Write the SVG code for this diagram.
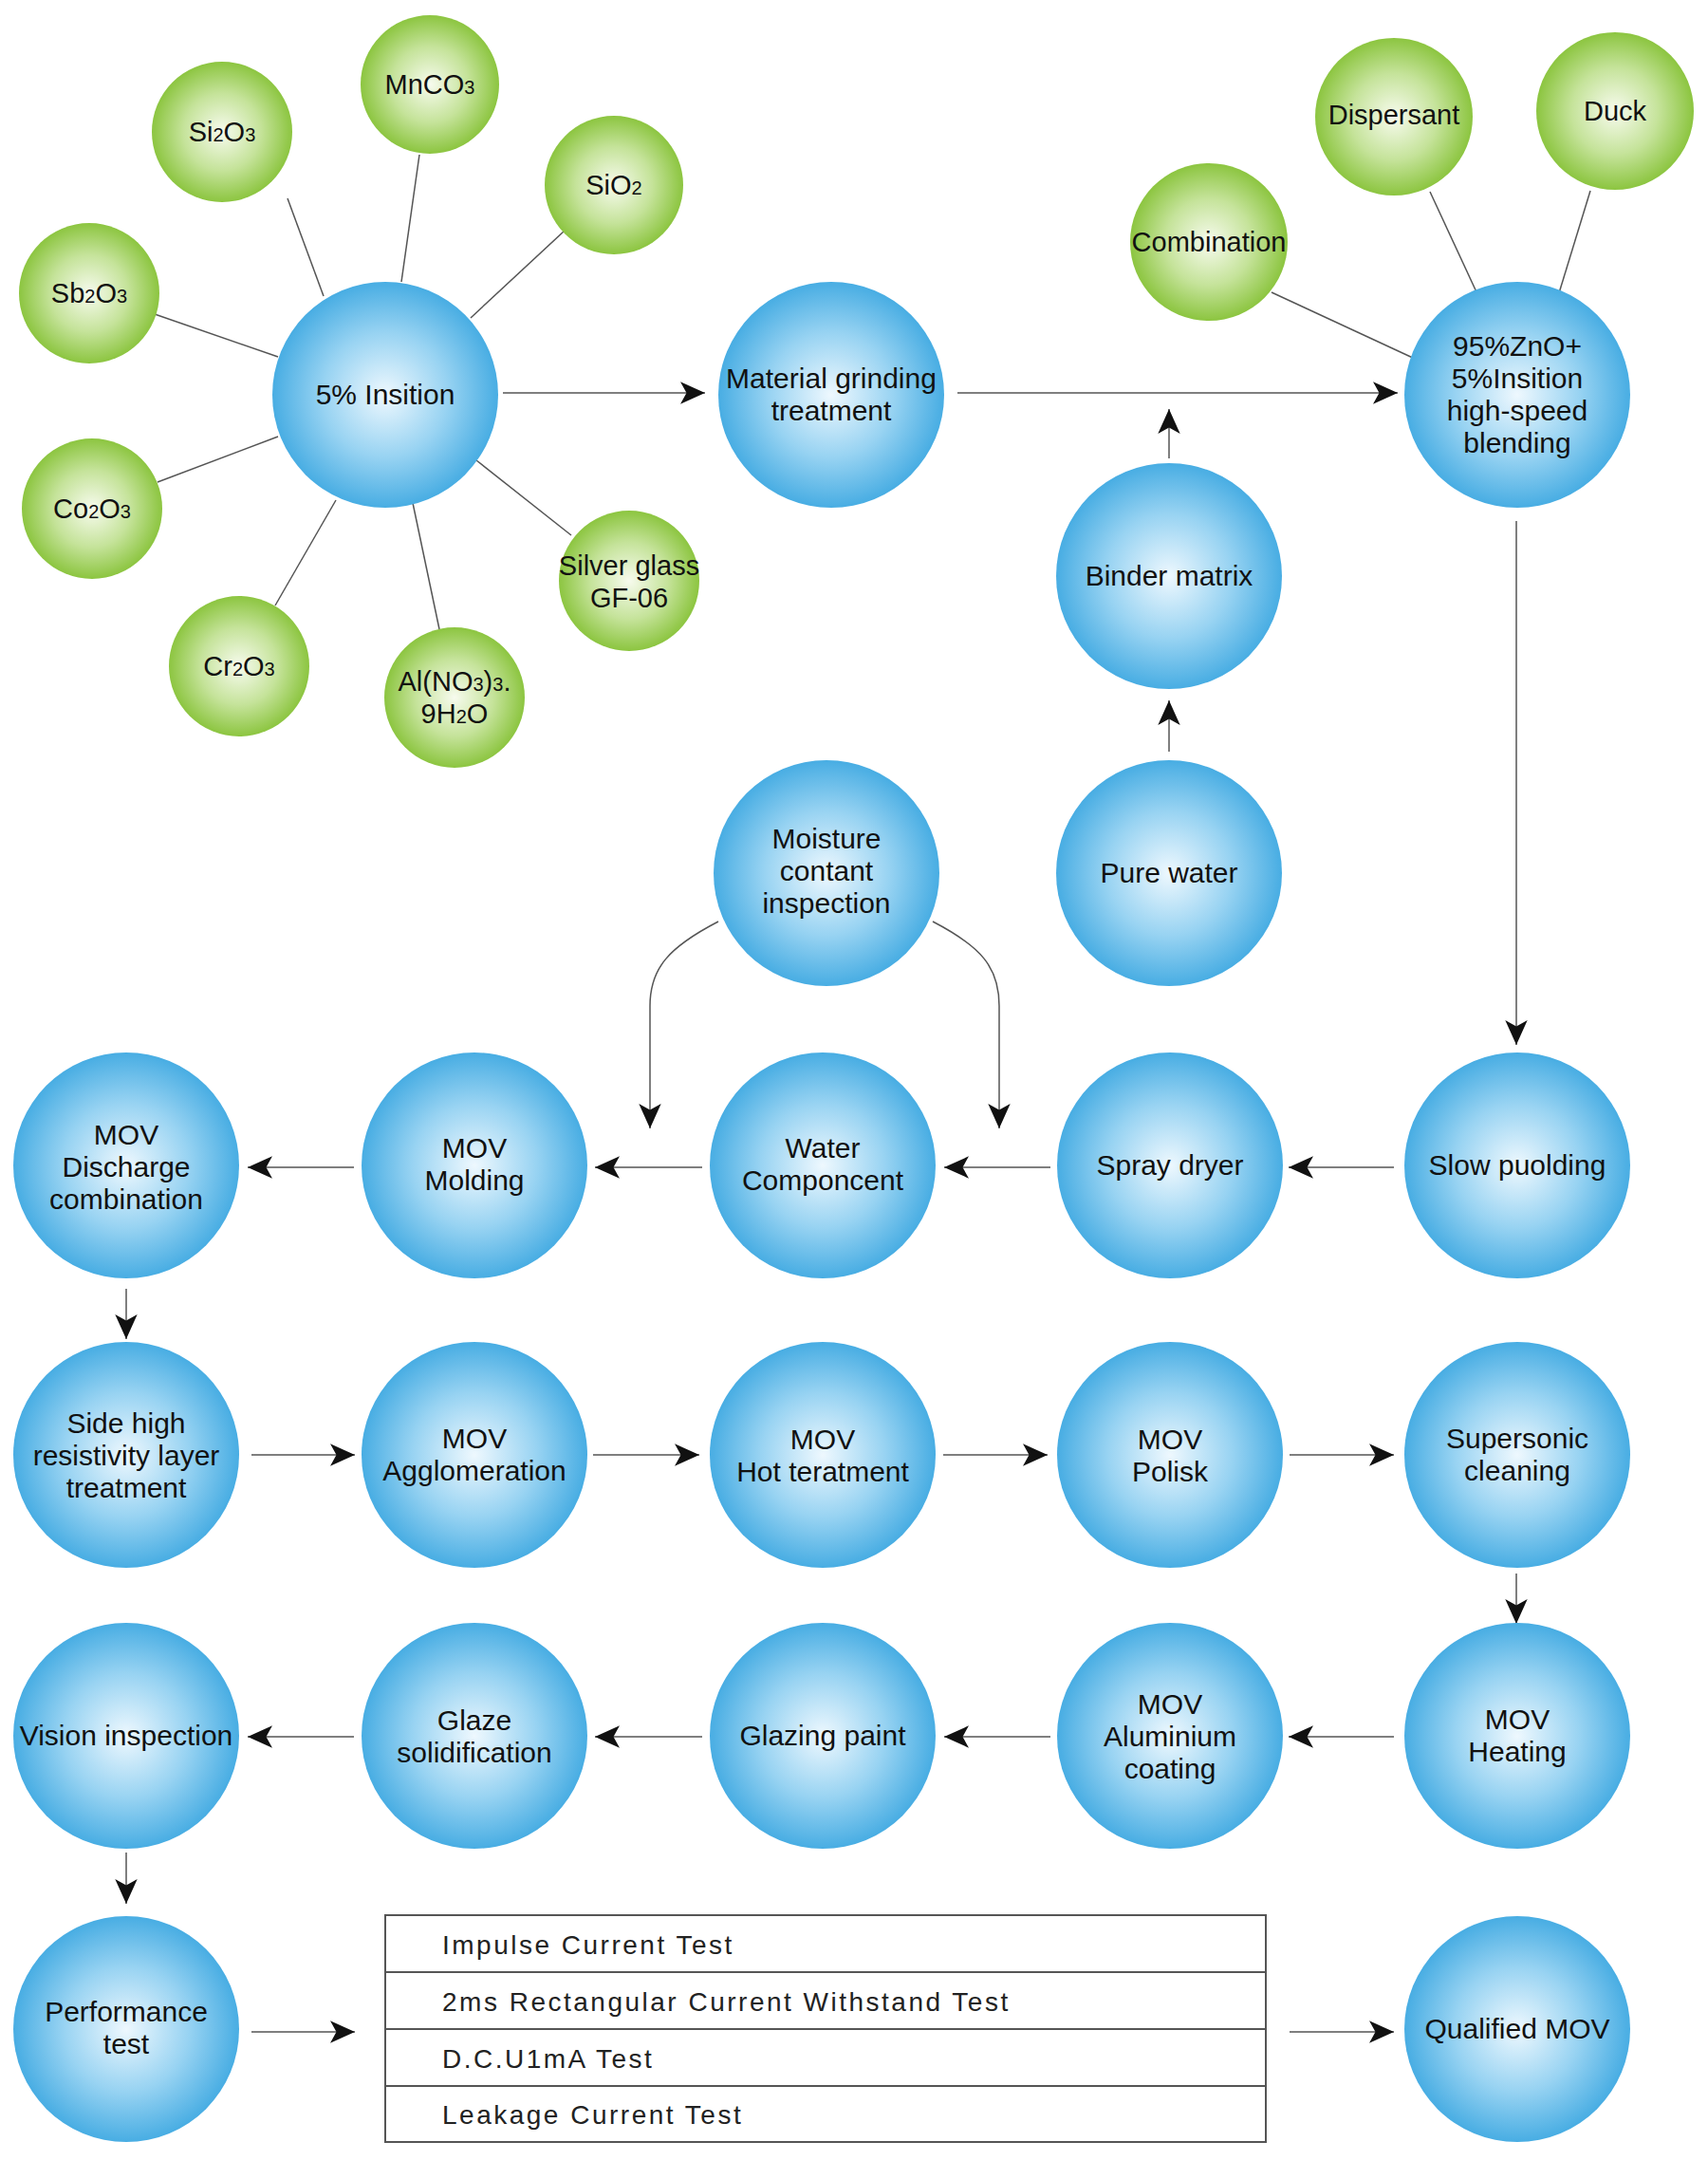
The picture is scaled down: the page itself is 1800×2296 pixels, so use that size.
<svg xmlns="http://www.w3.org/2000/svg" width="1800" height="2296" viewBox="0 0 1800 2296">
<defs>
<radialGradient id="gb" cx="50%" cy="50%" r="50%">
<stop offset="0" stop-color="#eef8fe"/>
<stop offset="0.55" stop-color="#98d3f2"/>
<stop offset="1" stop-color="#48ade3"/>
</radialGradient>
<radialGradient id="gg" cx="50%" cy="50%" r="50%">
<stop offset="0" stop-color="#f7fbee"/>
<stop offset="0.55" stop-color="#c5e39a"/>
<stop offset="1" stop-color="#8cc540"/>
</radialGradient>
<marker id="ah" viewBox="0 0 20 20" refX="20" refY="10" markerWidth="26" markerHeight="26" markerUnits="userSpaceOnUse" orient="auto">
<path d="M0,1 L20,10 L0,19 L5,10 z" fill="#111"/>
</marker>
<style>
.b{fill:url(#gb)}
.g{fill:url(#gg)}
.t{font-family:"Liberation Sans",Arial,sans-serif;font-size:30px;fill:#111;text-anchor:middle}
.tg{font-family:"Liberation Sans",Arial,sans-serif;font-size:29px;fill:#111;text-anchor:middle}
.s{font-size:20px}
.ln{stroke:#555;stroke-width:1.5;fill:none}
.ar{stroke:#555;stroke-width:1.5;fill:none;marker-end:url(#ah)}
.tb{fill:#fff;stroke:#555;stroke-width:2}
.tt{font-family:"Liberation Sans",Arial,sans-serif;font-size:28px;fill:#222;letter-spacing:2.5px}
</style>
</defs>
<rect width="1800" height="2296" fill="#fff"/>

<g id="connectors">
<line class="ln" x1="303" y1="209" x2="341" y2="312"/>
<line class="ln" x1="442" y1="163" x2="423" y2="297"/>
<line class="ln" x1="595" y1="243" x2="496" y2="335"/>
<line class="ln" x1="163" y1="331" x2="293" y2="376"/>
<line class="ln" x1="166" y1="508" x2="293" y2="460"/>
<line class="ln" x1="290" y1="638" x2="354" y2="527"/>
<line class="ln" x1="463" y1="663" x2="435" y2="530"/>
<line class="ln" x1="602" y1="564" x2="502" y2="485"/>
<line class="ln" x1="1340" y1="308" x2="1491" y2="378"/>
<line class="ln" x1="1507" y1="202" x2="1558" y2="312"/>
<line class="ln" x1="1676" y1="201" x2="1642" y2="312"/>
<line class="ar" x1="530" y1="414" x2="743" y2="414"/>
<line class="ar" x1="1009" y1="414" x2="1473" y2="414"/>
<line class="ar" x1="1232" y1="483" x2="1232" y2="431"/>
<line class="ar" x1="1232" y1="792" x2="1232" y2="738"/>
<line class="ar" x1="1598" y1="549" x2="1598" y2="1101"/>
<line class="ar" x1="1469" y1="1230" x2="1358" y2="1230"/>
<line class="ar" x1="1107" y1="1230" x2="995" y2="1230"/>
<line class="ar" x1="740" y1="1230" x2="627" y2="1230"/>
<line class="ar" x1="373" y1="1230" x2="261" y2="1230"/>
<path class="ar" d="M757,971 C705,998 685,1020 685,1060 L685,1189"/>
<path class="ar" d="M983,971 C1035,998 1053,1020 1053,1060 L1053,1189"/>
<line class="ar" x1="133" y1="1358" x2="133" y2="1411"/>
<line class="ar" x1="265" y1="1533" x2="374" y2="1533"/>
<line class="ar" x1="625" y1="1533" x2="737" y2="1533"/>
<line class="ar" x1="994" y1="1533" x2="1104" y2="1533"/>
<line class="ar" x1="1359" y1="1533" x2="1469" y2="1533"/>
<line class="ar" x1="1598" y1="1658" x2="1598" y2="1711"/>
<line class="ar" x1="1469" y1="1830" x2="1358" y2="1830"/>
<line class="ar" x1="1107" y1="1830" x2="995" y2="1830"/>
<line class="ar" x1="740" y1="1830" x2="627" y2="1830"/>
<line class="ar" x1="373" y1="1830" x2="261" y2="1830"/>
<line class="ar" x1="133" y1="1952" x2="133" y2="2006"/>
<line class="ar" x1="265" y1="2141" x2="374" y2="2141"/>
<line class="ar" x1="1359" y1="2141" x2="1469" y2="2141"/>
</g>

<g id="n-mnco3"><circle class="g" cx="453" cy="89" r="73"/><text class="tg" x="453" y="99">MnCO<tspan class="s">3</tspan></text></g>
<g id="n-si2o3"><circle class="g" cx="234" cy="139" r="74"/><text class="tg" x="234" y="149">Si<tspan class="s">2</tspan>O<tspan class="s">3</tspan></text></g>
<g id="n-sio2"><circle class="g" cx="647" cy="195" r="73"/><text class="tg" x="647" y="205">SiO<tspan class="s">2</tspan></text></g>
<g id="n-sb2o3"><circle class="g" cx="94" cy="309" r="74"/><text class="tg" x="94" y="319">Sb<tspan class="s">2</tspan>O<tspan class="s">3</tspan></text></g>
<g id="n-co2o3"><circle class="g" cx="97" cy="536" r="74"/><text class="tg" x="97" y="546">Co<tspan class="s">2</tspan>O<tspan class="s">3</tspan></text></g>
<g id="n-cr2o3"><circle class="g" cx="252" cy="702" r="74"/><text class="tg" x="252" y="712">Cr<tspan class="s">2</tspan>O<tspan class="s">3</tspan></text></g>
<g id="n-alno3"><circle class="g" cx="479" cy="735" r="74"/><text class="tg" x="479" y="728">Al(NO<tspan class="s">3</tspan>)<tspan class="s">3</tspan>.</text><text class="tg" x="479" y="762">9H<tspan class="s">2</tspan>O</text></g>
<g id="n-silver"><circle class="g" cx="663" cy="612" r="74"/><text class="tg" x="663" y="606">Silver glass</text><text class="tg" x="663" y="640">GF-06</text></g>
<g id="n-combination"><circle class="g" cx="1274" cy="255" r="83"/><text class="tg" x="1274" y="265">Combination</text></g>
<g id="n-dispersant"><circle class="g" cx="1469" cy="123" r="83"/><text class="tg" x="1469" y="131">Dispersant</text></g>
<g id="n-duck"><circle class="g" cx="1702" cy="117" r="83"/><text class="tg" x="1702" y="127">Duck</text></g>

<g id="n-insition"><circle class="b" cx="406" cy="416" r="119"/><text class="t" x="406" y="426">5% Insition</text></g>
<g id="n-grinding"><circle class="b" cx="876" cy="416" r="119"/><text class="t" x="876" y="409">Material grinding</text><text class="t" x="876" y="443">treatment</text></g>
<g id="n-blending"><circle class="b" cx="1599" cy="416" r="119"/><text class="t" x="1599" y="375">95%ZnO+</text><text class="t" x="1599" y="409">5%Insition</text><text class="t" x="1599" y="443">high-speed</text><text class="t" x="1599" y="477">blending</text></g>
<g id="n-binder"><circle class="b" cx="1232" cy="607" r="119"/><text class="t" x="1232" y="617">Binder matrix</text></g>
<g id="n-purewater"><circle class="b" cx="1232" cy="920" r="119"/><text class="t" x="1232" y="930">Pure water</text></g>
<g id="n-moisture"><circle class="b" cx="871" cy="920" r="119"/><text class="t" x="871" y="894">Moisture</text><text class="t" x="871" y="928">contant</text><text class="t" x="871" y="962">inspection</text></g>

<g id="n-discharge"><circle class="b" cx="133" cy="1228" r="119"/><text class="t" x="133" y="1206">MOV</text><text class="t" x="133" y="1240">Discharge</text><text class="t" x="133" y="1274">combination</text></g>
<g id="n-molding"><circle class="b" cx="500" cy="1228" r="119"/><text class="t" x="500" y="1220">MOV</text><text class="t" x="500" y="1254">Molding</text></g>
<g id="n-water"><circle class="b" cx="867" cy="1228" r="119"/><text class="t" x="867" y="1220">Water</text><text class="t" x="867" y="1254">Componcent</text></g>
<g id="n-spray"><circle class="b" cx="1233" cy="1228" r="119"/><text class="t" x="1233" y="1238">Spray dryer</text></g>
<g id="n-slow"><circle class="b" cx="1599" cy="1228" r="119"/><text class="t" x="1599" y="1238">Slow puolding</text></g>

<g id="n-side"><circle class="b" cx="133" cy="1533" r="119"/><text class="t" x="133" y="1510">Side high</text><text class="t" x="133" y="1544">resistivity layer</text><text class="t" x="133" y="1578">treatment</text></g>
<g id="n-agglom"><circle class="b" cx="500" cy="1533" r="119"/><text class="t" x="500" y="1526">MOV</text><text class="t" x="500" y="1560">Agglomeration</text></g>
<g id="n-hot"><circle class="b" cx="867" cy="1533" r="119"/><text class="t" x="867" y="1527">MOV</text><text class="t" x="867" y="1561">Hot teratment</text></g>
<g id="n-polisk"><circle class="b" cx="1233" cy="1533" r="119"/><text class="t" x="1233" y="1527">MOV</text><text class="t" x="1233" y="1561">Polisk</text></g>
<g id="n-supersonic"><circle class="b" cx="1599" cy="1533" r="119"/><text class="t" x="1599" y="1526">Supersonic</text><text class="t" x="1599" y="1560">cleaning</text></g>

<g id="n-vision"><circle class="b" cx="133" cy="1829" r="119"/><text class="t" x="133" y="1839">Vision inspection</text></g>
<g id="n-glaze"><circle class="b" cx="500" cy="1829" r="119"/><text class="t" x="500" y="1823">Glaze</text><text class="t" x="500" y="1857">solidification</text></g>
<g id="n-glazing"><circle class="b" cx="867" cy="1829" r="119"/><text class="t" x="867" y="1839">Glazing paint</text></g>
<g id="n-aluminium"><circle class="b" cx="1233" cy="1829" r="119"/><text class="t" x="1233" y="1806">MOV</text><text class="t" x="1233" y="1840">Aluminium</text><text class="t" x="1233" y="1874">coating</text></g>
<g id="n-heating"><circle class="b" cx="1599" cy="1829" r="119"/><text class="t" x="1599" y="1822">MOV</text><text class="t" x="1599" y="1856">Heating</text></g>

<g id="n-performance"><circle class="b" cx="133" cy="2138" r="119"/><text class="t" x="133" y="2130">Performance</text><text class="t" x="133" y="2164">test</text></g>
<g id="n-tests">
<rect class="tb" x="406" y="2018" width="928" height="60"/>
<rect class="tb" x="406" y="2078" width="928" height="60"/>
<rect class="tb" x="406" y="2138" width="928" height="60"/>
<rect class="tb" x="406" y="2198" width="928" height="59"/>
<text class="tt" x="466" y="2059">Impulse Current Test</text>
<text class="tt" x="466" y="2119">2ms Rectangular Current Withstand Test</text>
<text class="tt" x="466" y="2179">D.C.U1mA Test</text>
<text class="tt" x="466" y="2238">Leakage Current Test</text>
</g>
<g id="n-qualified"><circle class="b" cx="1599" cy="2138" r="119"/><text class="t" x="1599" y="2148">Qualified MOV</text></g>
</svg>
